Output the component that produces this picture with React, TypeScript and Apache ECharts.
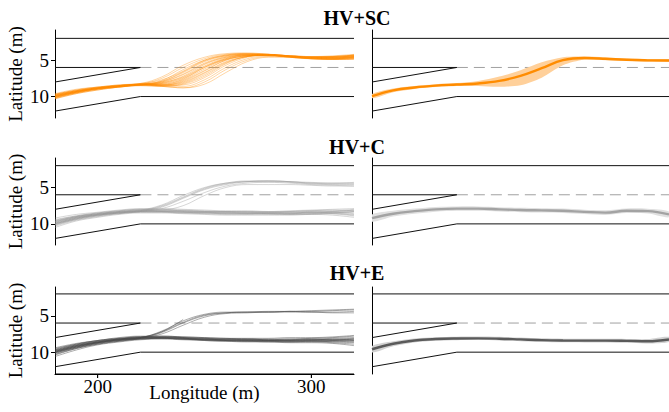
import React, { useEffect, useRef } from "react";
import * as echarts from "echarts";

// ---------- data ----------
const X_SAMPLES = [180, 190, 200, 210, 220, 230, 240, 250, 260, 270, 280, 290, 300, 310, 320];
const X_TICKS = [200, 300];
const Y_TICKS = [5, 10];
const PANEL_TITLES = ["HV+SC", "HV+C", "HV+E"];

// road geometry (lateral positions, m) and merge end (longitude, m)
const ROAD_EDGE = [2];
const LANE_DIVIDER = [6];
const RAMP_UPPER_START = [8];
const RAMP_LOWER_START = [12];
const LANE_EDGE = [10];
const ROAD_X = [180, 220, 320];

// HV+SC individual trajectories
const SC_TRAJ: number[][] = [
  [9.7, 9.1, 8.7, 8.4, 8.2, 7.3, 5.7, 4.6, 4.1, 4.0, 4.2, 4.4, 4.5, 4.5, 4.3],
  [9.9, 9.3, 8.8, 8.5, 8.3, 7.5, 6.0, 4.8, 4.2, 4.1, 4.2, 4.4, 4.6, 4.7, 4.6],
  [10.1, 9.4, 8.9, 8.6, 8.4, 7.8, 6.3, 5.0, 4.3, 4.1, 4.2, 4.5, 4.6, 4.6, 4.4],
  [9.8, 9.2, 8.8, 8.5, 8.3, 7.9, 6.6, 5.1, 4.4, 4.2, 4.3, 4.5, 4.7, 4.8, 4.7],
  [10.2, 9.5, 9.0, 8.7, 8.4, 8.0, 6.9, 5.4, 4.5, 4.2, 4.3, 4.5, 4.7, 4.7, 4.5],
  [9.9, 9.3, 8.9, 8.6, 8.3, 8.1, 7.2, 5.6, 4.6, 4.3, 4.3, 4.6, 4.8, 4.9, 4.8],
  [10.0, 9.4, 8.9, 8.6, 8.4, 8.2, 7.4, 5.9, 4.8, 4.3, 4.2, 4.4, 4.6, 4.6, 4.4],
  [9.7, 9.2, 8.8, 8.5, 8.3, 8.3, 7.6, 6.0, 4.9, 4.4, 4.3, 4.5, 4.7, 4.8, 4.7],
  [10.3, 9.6, 9.1, 8.7, 8.4, 8.4, 7.8, 6.4, 5.0, 4.4, 4.3, 4.4, 4.6, 4.6, 4.4],
  [9.9, 9.3, 8.9, 8.6, 8.3, 8.4, 8.0, 6.7, 5.2, 4.5, 4.3, 4.5, 4.8, 4.9, 4.8],
  [10.0, 9.4, 8.9, 8.6, 8.4, 8.5, 8.2, 7.0, 5.4, 4.5, 4.3, 4.5, 4.6, 4.5, 4.3],
  [10.1, 9.5, 9.0, 8.7, 8.4, 8.5, 8.4, 7.4, 5.7, 4.6, 4.3, 4.4, 4.6, 4.6, 4.5],
  [9.8, 9.2, 8.8, 8.5, 8.3, 8.5, 8.6, 7.7, 6.0, 4.8, 4.4, 4.5, 4.7, 4.8, 4.7],
  [10.2, 9.5, 9.0, 8.7, 8.5, 8.6, 8.8, 8.0, 6.3, 5.0, 4.5, 4.5, 4.7, 4.7, 4.6],
  [9.9, 9.3, 8.9, 8.6, 8.4, 8.6, 8.8, 8.3, 6.7, 5.2, 4.6, 4.6, 4.8, 4.9, 4.9],
  [10.0, 9.3, 8.8, 8.5, 8.3, 8.0, 7.0, 5.5, 4.6, 4.3, 4.4, 4.6, 4.7, 4.6, 4.4],
  [9.8, 9.2, 8.8, 8.5, 8.3, 8.2, 7.5, 6.0, 4.8, 4.3, 4.3, 4.6, 4.8, 4.8, 4.6],
  [10.1, 9.4, 8.9, 8.6, 8.4, 8.4, 7.9, 6.5, 5.0, 4.4, 4.2, 4.4, 4.5, 4.5, 4.3],
  [9.6, 9.0, 8.7, 8.4, 8.2, 7.7, 6.5, 5.0, 4.3, 4.1, 4.2, 4.4, 4.5, 4.4, 4.2],
  [10.3, 9.6, 9.1, 8.7, 8.5, 8.6, 8.3, 7.2, 5.5, 4.5, 4.3, 4.5, 4.7, 4.8, 4.6],
  [10.0, 9.4, 8.9, 8.6, 8.4, 8.1, 7.3, 5.8, 4.7, 4.3, 4.3, 4.5, 4.7, 4.7, 4.5],
  [9.9, 9.3, 8.9, 8.6, 8.4, 8.3, 7.7, 6.2, 4.9, 4.4, 4.3, 4.5, 4.6, 4.5, 4.3],
  [9.7, 9.1, 8.7, 8.5, 8.3, 8.4, 8.1, 6.8, 5.3, 4.5, 4.3, 4.6, 4.8, 4.9, 4.8],
  [10.1, 9.4, 8.9, 8.6, 8.3, 7.9, 6.7, 5.2, 4.4, 4.2, 4.3, 4.5, 4.7, 4.7, 4.5],
];

// HV+C individual trajectories
const C_TRAJ: number[][] = [
  [9.8, 9.1, 8.7, 8.4, 8.2, 8.2, 8.3, 8.4, 8.4, 8.5, 8.5, 8.5, 8.4, 8.4, 8.3],
  [10.3, 9.5, 9.0, 8.6, 8.4, 8.4, 8.5, 8.6, 8.7, 8.7, 8.6, 8.7, 8.7, 8.6, 8.8],
  [9.4, 8.9, 8.5, 8.2, 8.0, 8.0, 8.1, 8.2, 8.3, 8.3, 8.4, 8.3, 8.2, 8.2, 8.0],
  [10.0, 9.2, 8.8, 8.5, 8.3, 8.3, 8.4, 8.5, 8.5, 8.6, 8.6, 8.6, 8.5, 8.5, 8.4],
  [9.6, 9.0, 8.6, 8.3, 8.1, 8.1, 8.2, 8.3, 8.4, 8.4, 8.5, 8.4, 8.4, 8.3, 8.2],
  [10.5, 9.6, 9.1, 8.7, 8.5, 8.5, 8.6, 8.7, 8.8, 8.8, 8.8, 8.8, 8.7, 8.8, 9.1],
  [9.2, 8.7, 8.4, 8.1, 7.9, 7.9, 8.0, 8.1, 8.2, 8.2, 8.3, 8.2, 8.1, 8.0, 7.9],
  [9.9, 9.2, 8.7, 8.4, 8.2, 8.3, 8.4, 8.5, 8.6, 8.6, 8.5, 8.6, 8.6, 8.5, 8.3],
  [10.1, 9.3, 8.8, 8.5, 8.3, 8.3, 8.3, 8.4, 8.5, 8.5, 8.6, 8.7, 8.6, 8.4, 8.6],
  [9.7, 9.0, 8.6, 8.3, 8.1, 8.2, 8.2, 8.3, 8.3, 8.4, 8.4, 8.4, 8.3, 8.3, 8.1],
  [10.2, 9.4, 8.9, 8.6, 8.4, 8.4, 8.5, 8.5, 8.6, 8.6, 8.7, 8.6, 8.5, 8.6, 8.9],
  [9.5, 8.9, 8.5, 8.2, 8.0, 8.1, 8.2, 8.3, 8.3, 8.3, 8.3, 8.3, 8.2, 8.1, 8.2],
  [10.0, 9.3, 8.8, 8.5, 8.3, 8.3, 8.4, 8.4, 8.5, 8.5, 8.5, 8.5, 8.4, 8.5, 8.7],
  [9.6, 9.0, 8.6, 8.3, 8.1, 7.4, 6.1, 5.0, 4.4, 4.2, 4.1, 4.2, 4.4, 4.5, 4.5],
  [9.9, 9.2, 8.7, 8.4, 8.2, 7.5, 6.3, 5.1, 4.4, 4.1, 4.1, 4.2, 4.4, 4.4, 4.4],
  [10.1, 9.4, 8.9, 8.5, 8.3, 7.7, 6.5, 5.3, 4.6, 4.2, 4.1, 4.2, 4.3, 4.4, 4.3],
  [9.8, 9.1, 8.7, 8.4, 8.2, 7.6, 6.4, 5.2, 4.5, 4.2, 4.2, 4.3, 4.5, 4.6, 4.6],
  [10.0, 9.3, 8.8, 8.5, 8.3, 7.9, 6.9, 5.7, 4.8, 4.4, 4.3, 4.4, 4.6, 4.7, 4.8],
  [9.7, 9.1, 8.7, 8.4, 8.2, 8.1, 7.5, 6.1, 5.0, 4.6, 4.6, 4.6, 4.7, 4.8, 4.8],
];

// HV+E individual trajectories
const E_TRAJ: number[][] = [
  [9.9, 9.1, 8.6, 8.2, 8.0, 7.9, 8.0, 8.1, 8.2, 8.2, 8.3, 8.3, 8.3, 8.2, 8.1],
  [10.4, 9.5, 8.9, 8.5, 8.2, 8.1, 8.2, 8.3, 8.4, 8.5, 8.5, 8.6, 8.6, 8.7, 8.9],
  [9.4, 8.8, 8.4, 8.0, 7.8, 7.8, 7.9, 8.0, 8.1, 8.2, 8.2, 8.2, 8.1, 8.0, 7.8],
  [10.1, 9.3, 8.7, 8.3, 8.1, 8.0, 8.1, 8.3, 8.4, 8.4, 8.5, 8.5, 8.4, 8.4, 8.5],
  [9.7, 9.0, 8.5, 8.2, 7.9, 7.9, 8.0, 8.2, 8.3, 8.3, 8.4, 8.4, 8.3, 8.3, 8.2],
  [10.6, 9.7, 9.0, 8.6, 8.3, 8.2, 8.3, 8.4, 8.5, 8.6, 8.6, 8.7, 8.7, 8.8, 9.1],
  [9.6, 8.9, 8.4, 8.1, 7.9, 7.8, 7.9, 8.0, 8.1, 8.1, 8.1, 8.0, 8.0, 7.9, 7.7],
  [10.0, 9.2, 8.7, 8.3, 8.1, 8.0, 8.1, 8.2, 8.3, 8.4, 8.4, 8.4, 8.5, 8.5, 8.4],
  [10.2, 9.4, 8.8, 8.4, 8.2, 8.1, 8.2, 8.3, 8.4, 8.5, 8.5, 8.5, 8.4, 8.6, 8.7],
  [9.8, 9.1, 8.6, 8.2, 8.0, 8.0, 8.1, 8.2, 8.3, 8.3, 8.4, 8.3, 8.2, 8.3, 8.3],
  [10.3, 9.5, 8.9, 8.5, 8.2, 8.1, 8.2, 8.4, 8.5, 8.5, 8.6, 8.6, 8.5, 8.5, 8.6],
  [9.5, 8.9, 8.4, 8.1, 7.9, 7.9, 8.0, 8.1, 8.2, 8.2, 8.3, 8.2, 8.2, 8.1, 8.0],
  [10.0, 9.3, 8.7, 8.4, 8.1, 8.1, 8.2, 8.3, 8.4, 8.4, 8.4, 8.5, 8.5, 8.4, 8.2],
  [9.9, 9.2, 8.7, 8.3, 8.0, 8.0, 8.1, 8.2, 8.2, 8.3, 8.3, 8.4, 8.3, 8.3, 8.4],
  [9.8, 9.1, 8.6, 8.2, 8.0, 7.1, 5.7, 4.8, 4.5, 4.5, 4.5, 4.4, 4.4, 4.3, 4.2],
  [10.0, 9.3, 8.7, 8.3, 8.1, 7.3, 6.0, 5.0, 4.6, 4.5, 4.5, 4.4, 4.5, 4.5, 4.4],
  [9.7, 9.0, 8.5, 8.2, 8.0, 7.2, 5.9, 4.9, 4.6, 4.5, 4.4, 4.4, 4.3, 4.2, 4.1],
  [10.1, 9.4, 8.8, 8.4, 8.1, 7.5, 6.3, 5.2, 4.7, 4.6, 4.5, 4.5, 4.5, 4.6, 4.6],
  [9.9, 9.2, 8.6, 8.3, 8.0, 7.2, 5.5],
];

// mean and band (right column)
const SC_MEAN = [9.95, 9.15, 8.75, 8.5, 8.35, 8.2, 7.85, 7.15, 6.1, 5.0, 4.7, 4.8, 4.95, 5.02, 5.05];
const SC_LOW = [9.65, 8.9, 8.55, 8.3, 8.15, 7.85, 7.25, 6.4, 5.3, 4.6, 4.5, 4.62, 4.78, 4.85, 4.88];
const SC_HIGH = [10.25, 9.4, 8.95, 8.7, 8.55, 8.55, 8.65, 8.45, 7.4, 5.7, 4.95, 5.0, 5.12, 5.2, 5.22];

const C_MEAN = [9.2, 8.6, 8.25, 8.0, 7.9, 7.9, 8.0, 8.1, 8.15, 8.2, 8.35, 8.45, 8.2, 8.25, 8.7];
const C_LOW = [8.7, 8.2, 7.9, 7.68, 7.6, 7.6, 7.7, 7.8, 7.85, 7.9, 8.05, 8.12, 7.88, 7.92, 8.3];
const C_HIGH = [9.7, 9.0, 8.6, 8.32, 8.2, 8.2, 8.3, 8.4, 8.45, 8.5, 8.65, 8.78, 8.52, 8.58, 9.1];

const E_MEAN = [9.6, 8.85, 8.4, 8.2, 8.12, 8.1, 8.15, 8.25, 8.35, 8.4, 8.42, 8.42, 8.45, 8.5, 8.25];
const E_LOW = [9.15, 8.5, 8.12, 7.95, 7.88, 7.86, 7.9, 8.0, 8.1, 8.15, 8.17, 8.17, 8.18, 8.2, 7.9];
const E_HIGH = [10.05, 9.2, 8.68, 8.45, 8.36, 8.34, 8.4, 8.5, 8.6, 8.65, 8.67, 8.67, 8.72, 8.8, 8.6];

// ---------- styles ----------
const FONT = '"Liberation Serif", "Times New Roman", serif';
const ROWS = [
  { top: 30, height: 88, min: 0.85, max: 12.95, titleY: 18 },
  { top: 158, height: 87, min: 0.95, max: 12.9, titleY: 147 },
  { top: 287, height: 87, min: 1.05, max: 13.0, titleY: 273 },
];
const COLS = [
  { left: 55, width: 299 },
  { left: 372, width: 299 },
];
const GROUPS = [
  { traj: SC_TRAJ, mean: SC_MEAN, low: SC_LOW, high: SC_HIGH, line: "#ff8c00", lineOpacity: 0.4, lineWidth: 0.9, meanColor: "#ff8c00", band: "#ffd09a" },
  { traj: C_TRAJ, mean: C_MEAN, low: C_LOW, high: C_HIGH, line: "#9a9a9a", lineOpacity: 0.45, lineWidth: 0.9, meanColor: "#a3a3a3", band: "#e0e0e0" },
  { traj: E_TRAJ, mean: E_MEAN, low: E_LOW, high: E_HIGH, line: "#4a4a4a", lineOpacity: 0.5, lineWidth: 0.9, meanColor: "#5a5a5a", band: "#d2d2d2" },
];

const pts = (ys: number[]) => ys.map((y, i) => [X_SAMPLES[i], y]);

function roadSeries(idx: number): any[] {
  const [x0, xm, x1] = ROAD_X;
  const base = { type: "line", xAxisIndex: idx, yAxisIndex: idx, symbol: "none", silent: true, z: 1 };
  const solid = { color: "#111", width: 1 };
  return [
    { ...base, data: [[x0, ROAD_EDGE[0]], [x1, ROAD_EDGE[0]]], lineStyle: solid },
    { ...base, data: [[x0, LANE_DIVIDER[0]], [xm, LANE_DIVIDER[0]]], lineStyle: solid },
    { ...base, data: [[xm, LANE_DIVIDER[0]], [x1, LANE_DIVIDER[0]]], lineStyle: { color: "#a0a0a0", width: 1, type: [11, 6] } },
    { ...base, data: [[x0, RAMP_UPPER_START[0]], [xm, LANE_DIVIDER[0]]], lineStyle: solid },
    { ...base, data: [[x0, RAMP_LOWER_START[0]], [xm, LANE_EDGE[0]], [x1, LANE_EDGE[0]]], lineStyle: solid },
  ];
}

function bandSeries(idx: number, low: number[], high: number[], color: string) {
  const data = X_SAMPLES.map((x, i) => [x, low[i], high[i]]);
  return {
    type: "custom",
    xAxisIndex: idx,
    yAxisIndex: idx,
    coordinateSystem: "cartesian2d",
    silent: true,
    clip: true,
    z: 2,
    encode: { x: 0, y: [1, 2] },
    data,
    renderItem: (params: any, api: any) => {
      if (params.dataIndex !== 0) return null;
      const upper = data.map((d) => api.coord([d[0], d[2]]));
      const lower = data.map((d) => api.coord([d[0], d[1]])).reverse();
      return {
        type: "polygon",
        shape: { points: upper.concat(lower), smooth: 0.3 },
        style: { fill: color, stroke: "none" },
      };
    },
  };
}

// explicit bottom spine + ticks for the bottom-left panel
function bottomAxisSeries(idx: number, yBottom: number): any[] {
  return [
    {
      type: "line",
      xAxisIndex: idx,
      yAxisIndex: idx,
      data: [[ROAD_X[0], yBottom], [ROAD_X[2], yBottom]],
      symbol: "none",
      silent: true,
      clip: false,
      z: 5,
      lineStyle: { color: "#000", width: 1 },
    },
    {
      type: "scatter",
      xAxisIndex: idx,
      yAxisIndex: idx,
      data: X_TICKS.map((x) => [x, yBottom]),
      symbol: "rect",
      symbolSize: [1, 4],
      symbolOffset: [0, 2],
      silent: true,
      clip: false,
      z: 5,
      itemStyle: { color: "#000" },
    },
  ];
}

function buildOption() {
  const grid: any[] = [];
  const xAxis: any[] = [];
  const yAxis: any[] = [];
  const series: any[] = [];
  const graphic: any[] = [];

  ROWS.forEach((row, r) => {
    COLS.forEach((col, c) => {
      const idx = r * 2 + c;
      grid.push({ left: col.left, top: row.top, width: col.width, height: row.height, containLabel: false });
      const isBottomLeft = r === 2 && c === 0;
      xAxis.push({
        gridIndex: idx,
        type: "value",
        min: 180,
        max: 320,
        show: isBottomLeft,
        position: "bottom",
        axisLine: { show: isBottomLeft, onZero: false, lineStyle: { color: "#000", width: 1 } },
        axisTick: { show: isBottomLeft, length: 4, customValues: X_TICKS, lineStyle: { color: "#000", width: 1 } },
        axisLabel: { show: isBottomLeft, customValues: X_TICKS, margin: 3, fontSize: 19, fontFamily: FONT, color: "#000" },
        splitLine: { show: false },
        name: isBottomLeft ? "Longitude (m)" : "",
        nameLocation: "middle",
        nameGap: 9,
        nameMoveOverlap: false,
        nameTextStyle: { fontSize: 19, fontFamily: FONT, color: "#000" },
      });
      yAxis.push({
        gridIndex: idx,
        type: "value",
        inverse: true,
        min: row.min,
        max: row.max,
        position: "left",
        axisLine: { show: true, onZero: false, lineStyle: { color: "#000", width: 1 } },
        axisTick: { show: c === 0, length: 4, customValues: Y_TICKS, lineStyle: { color: "#000", width: 1 } },
        axisLabel: { show: c === 0, customValues: Y_TICKS, margin: 6, fontSize: 19, fontFamily: FONT, color: "#000" },
        splitLine: { show: false },
        name: c === 0 ? "Latitude (m)" : "",
        nameLocation: "middle",
        nameGap: 30,
        nameMoveOverlap: false,
        nameTextStyle: { fontSize: 19, fontFamily: FONT, color: "#000" },
      });

      series.push(...roadSeries(idx));
      if (isBottomLeft) series.push(...bottomAxisSeries(idx, row.max));
      const g = GROUPS[r];
      if (c === 0) {
        g.traj.forEach((t) => {
          series.push({
            type: "line",
            xAxisIndex: idx,
            yAxisIndex: idx,
            data: pts(t),
            smooth: 0.4,
            symbol: "none",
            silent: true,
            z: 2,
            lineStyle: { color: g.line, width: g.lineWidth, opacity: g.lineOpacity },
          });
        });
      } else {
        series.push(bandSeries(idx, g.low, g.high, g.band));
        series.push({
          type: "line",
          xAxisIndex: idx,
          yAxisIndex: idx,
          data: pts(g.mean),
          smooth: 0.4,
          symbol: "none",
          silent: true,
          z: 3,
          lineStyle: { color: g.meanColor, width: 2.4 },
        });
      }
    });
    graphic.push({
      type: "text",
      x: 357,
      y: row.titleY,
      style: {
        text: PANEL_TITLES[r],
        font: `bold 20px ${FONT}`,
        fill: "#000",
        textAlign: "center",
        textVerticalAlign: "middle",
      },
    });
  });

  return {
    animation: false,
    backgroundColor: "#fff",
    grid,
    xAxis,
    yAxis,
    series,
    graphic,
  };
}

export default function App() {
  const ref = useRef<HTMLDivElement>(null);
  useEffect(() => {
    if (!ref.current) return;
    const chart = echarts.init(ref.current, undefined, { renderer: "svg" });
    chart.setOption(buildOption());
    return () => chart.dispose();
  }, []);
  return (
    <div
      ref={ref}
      style={{ position: "absolute", left: 0, top: 0, width: 669, height: 412, background: "#fff" }}
    />
  );
}
